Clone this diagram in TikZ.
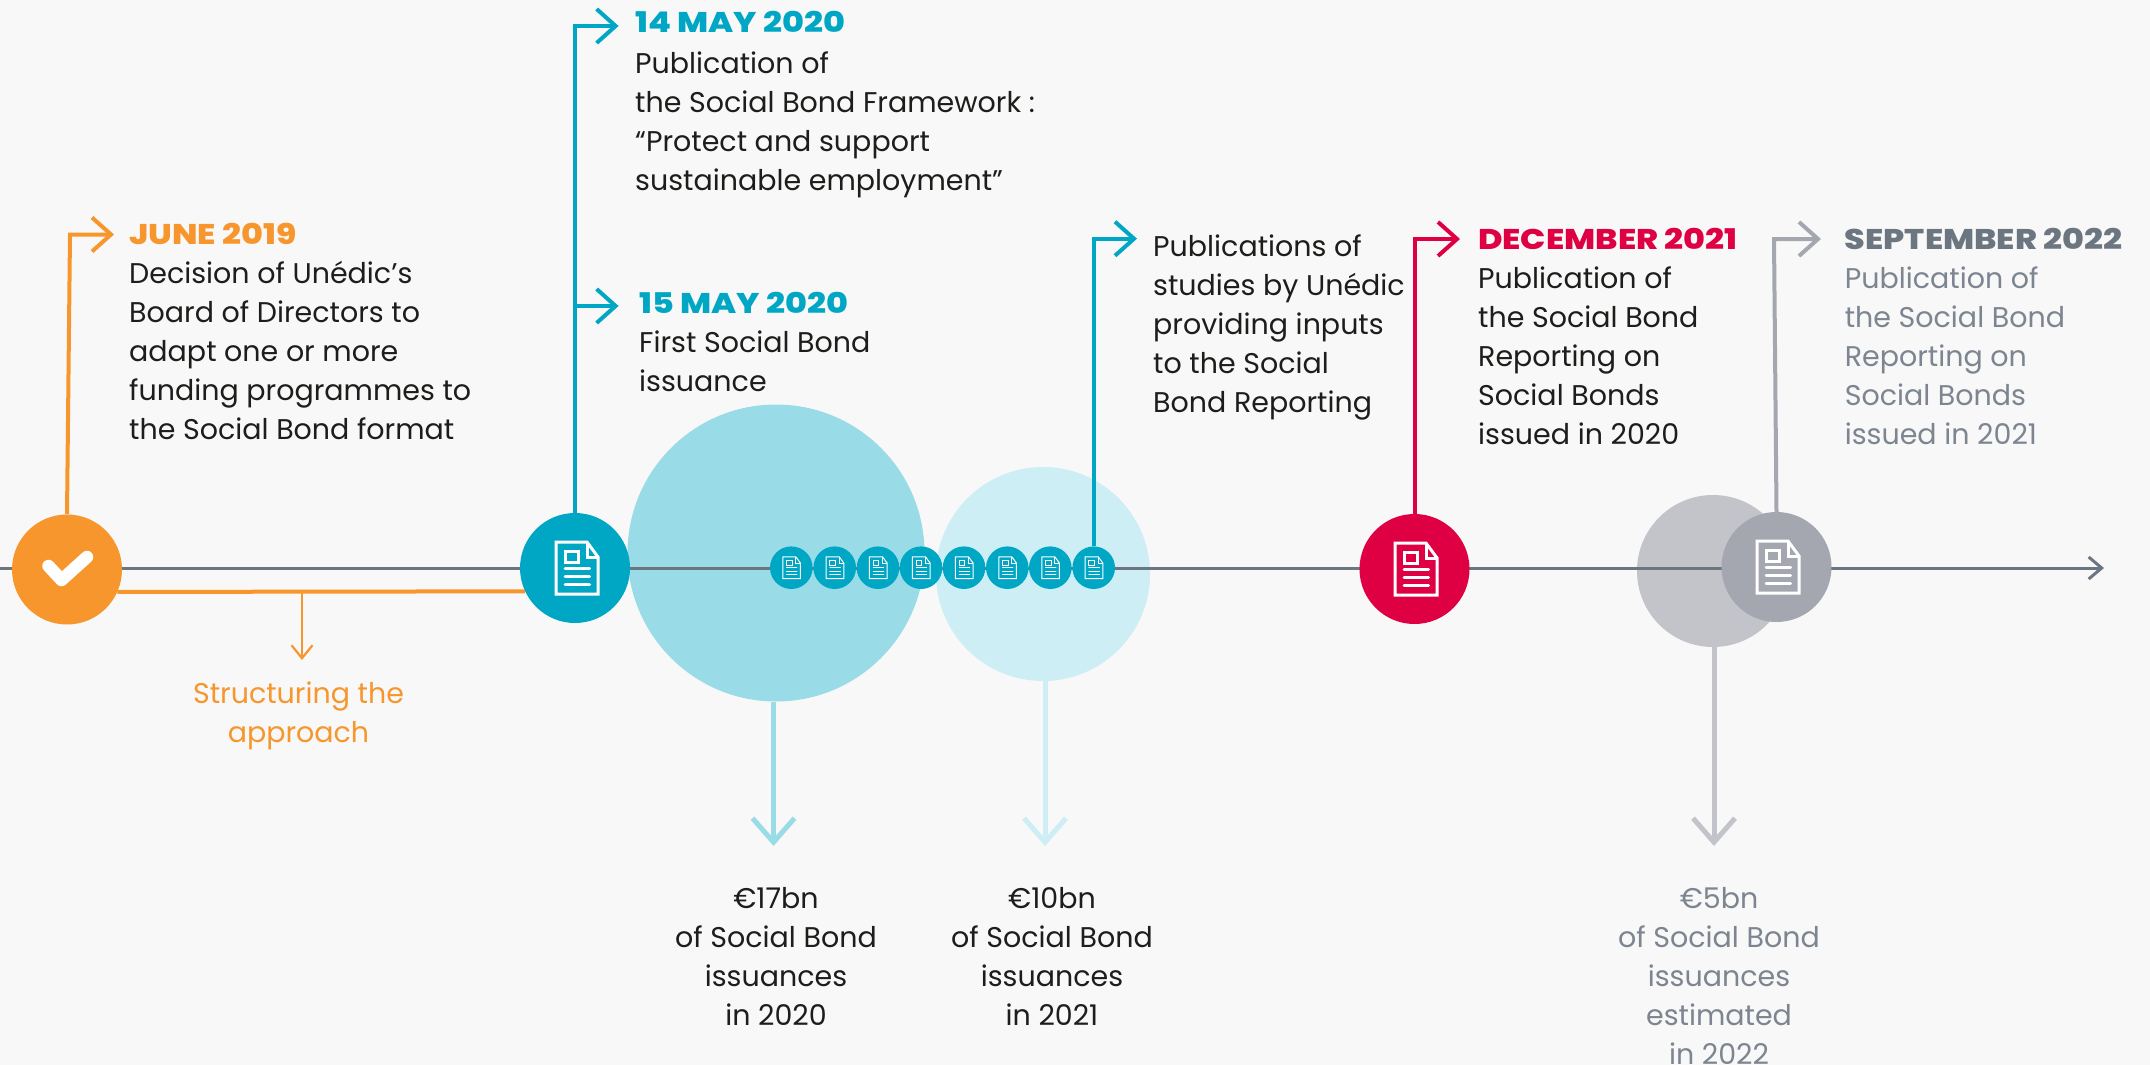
\documentclass[tikz,border=0pt]{standalone}
\usepackage{fontspec}
\usetikzlibrary{arrows.meta}
\setmainfont{Poppins}
\newfontfamily\headfont{Poppins}[UprightFont=* ExtraBold,FakeStretch=1.17]
\definecolor{bgc}{HTML}{F8F8F8}
\definecolor{orangec}{HTML}{F6962D}
\definecolor{bluec}{HTML}{00A7C4}
\definecolor{bluemid}{HTML}{99DCE8}
\definecolor{bluelight}{HTML}{CDEEF5}
\definecolor{redc}{HTML}{DE0043}
\definecolor{grayc}{HTML}{A4A7B0}
\definecolor{graylight}{HTML}{C2C4CA}
\definecolor{axisc}{HTML}{6C7680}
\definecolor{inkc}{HTML}{1D1D1B}
\definecolor{graytext}{HTML}{7C8590}
\tikzset{
  x=1pt,y=-1pt,
  dot/.style={circle,inner sep=0pt,minimum size=110pt,fill=#1},
  minidot/.style={circle,inner sep=0pt,minimum size=42.6pt,fill=bluec},
  disc/.style={circle,inner sep=0pt,fill=#1},
  bodytext/.style={anchor=base west,align=left,inner sep=0pt,text=inkc,font=\fontsize{28.5}{39}\selectfont},
  centertext/.style={anchor=base,align=center,inner sep=0pt,text=inkc,font=\fontsize{28.5}{39}\selectfont},
  headtext/.style={anchor=base west,inner sep=0pt,font=\fontsize{28.5}{39}\headfont},
  riser/.style={line width=4pt,draw=#1,-{Straight Barb[length=19pt,width=34pt]}},
  faller/.style={line width=5pt,draw=#1,-{Straight Barb[length=24pt,width=42pt]}},
  docicon/.pic={
    \draw[white,line width=#1,line join=miter]
      (-21,-26) -- (10,-26) -- (21,-11) -- (21,26) -- (-21,26) -- cycle;
    \draw[white,line width=#1] (10,-26) -- (10,-11) -- (21,-11);
    \draw[white,line width=#1] (-12,-17) rectangle (1,-6);
    \draw[white,line width=#1,line cap=round] (-12,0.5) -- (12.6,0.5);
    \draw[white,line width=#1,line cap=round] (-12,8.5) -- (12.6,8.5);
    \draw[white,line width=#1,line cap=round] (-12,16.5) -- (12.6,16.5);
  }
}
\begin{document}
\begin{tikzpicture}
\useasboundingbox (0,0) rectangle (2150,1065);
\fill[bgc] (0,0) rectangle (2150,1065);
% large amount discs
\node[disc=bluemid,minimum size=297pt] (d17) at (776,553) {};
\node[disc=bluelight,minimum size=214pt] (d10) at (1043,574) {};
\node[disc=graylight,minimum size=152pt] (d5) at (1713,571) {};
% axis
\coordinate (axisstart) at (0,568);
\coordinate (axisend) at (2104,568);
\draw[axisc,line width=3pt,-{Straight Barb[length=13pt,width=22pt]}] (axisstart) -- (axisend);
% milestones
\node[dot=orangec] (m19) at (67,569.5) {};
\node[dot=bluec] (m20) at (575,568) {};
\node[dot=redc] (m21) at (1414.5,569) {};
\node[dot=grayc] (m22) at (1776.5,567) {};
\foreach \i/\cx in {1/791.3,2/834.7,3/878,4/921,5/964,6/1007.3,7/1050.3,8/1093.7}{
  \node[minidot] (s\i) at (\cx,567.7) {};
  \pic[xshift=0.3pt,scale=0.42] at (s\i) {docicon=1};
}
\pic at ([xshift=2pt]m20.center) {docicon=3};
\pic at ([xshift=1.5pt]m21.center) {docicon=3};
\pic at ([xshift=1.5pt]m22.center) {docicon=3};
\draw[white,line width=12.5pt,line cap=round,line join=round] (48.5,566) -- (61.5,580) -- (87,557);
% orange bracket
\coordinate (barmid) at (302,592);
\coordinate (bartip) at (302,660);
\draw[orangec,line width=4pt] (m19.-24.15) -- (m20.205.87);
\draw[orangec,line width=2.2pt,-{Straight Barb[length=13pt,width=21pt]}] (barmid) -- (bartip);
% risers
\coordinate (tj) at (114,234.5);
\coordinate (cj) at (70,234.5);
\coordinate (t14) at (618.6,26);
\coordinate (t15) at (618.6,306);
\coordinate (tp) at (1137,238.7);
\coordinate (td) at (1460,239);
\coordinate (ts) at (1821,239);
\coordinate (cs) at (1774,239);
\draw[riser=orangec] (m19.north) -- (cj) -- (tj);
\draw[riser=bluec] (m20.north) |- (t14);
\draw[riser=bluec] (m20.center |- t15) -- (t15);
\draw[riser=bluec] (s8.north) |- (tp);
\draw[riser=redc] (m21.north) |- (td);
\draw[riser=grayc] (m22.north) -- (cs) -- (ts);
% fallers
\coordinate (f17) at (773.5,846);
\coordinate (f10) at (1045,846);
\coordinate (f5) at (1714,846);
\draw[faller=bluemid] (f17 |- d17.south) -- (f17);
\draw[faller=bluelight] (f10 |- d10.south) -- (f10);
\draw[faller=graylight] (f5 |- d5.south) -- (f5);
% texts (a multi-line node is placed by its last baseline)
\node[headtext,text=orangec] (hj) at (129,244) {JUNE 2019};
\node[bodytext] (bj) at (129,439) {Decision of Unédic’s\\Board of Directors to\\adapt one or more\\funding programmes to\\the Social Bond format};
\node[headtext,text=bluec] (h14) at (635,33) {14 MAY 2020};
\node[bodytext] (b14) at (635,190) {Publication of\\the Social Bond Framework :\\“Protect and support\\sustainable employment”};
\node[headtext,text=bluec] (h15) at (639,313) {15 MAY 2020};
\node[bodytext] (b15) at (639,391) {First Social Bond\\issuance};
\node[bodytext] (bp) at (1153,412.4) {Publications of\\studies by Unédic\\providing inputs\\to the Social\\Bond Reporting};
\node[headtext,text=redc] (hd) at (1478,249) {DECEMBER 2021};
\node[bodytext] (bd) at (1478,444) {Publication of\\the Social Bond\\Reporting on\\Social Bonds\\issued in 2020};
\node[headtext,text=axisc] (hs) at (1844.6,249) {SEPTEMBER 2022};
\node[bodytext,text=graytext] (bs) at (1844.6,444) {Publication of\\the Social Bond\\Reporting on\\Social Bonds\\issued in 2021};
\node[centertext,text=orangec] (tb) at (298.5,742) {Structuring the\\approach};
\node[centertext] (a17) at (776,1025) {€17bn\\of Social Bond\\issuances\\in 2020};
\node[centertext] (a10) at (1052,1025) {€10bn\\of Social Bond\\issuances\\in 2021};
\node[centertext,text=graytext] (a5) at (1719,1064) {€5bn\\of Social Bond\\issuances\\estimated\\in 2022};
\end{tikzpicture}
\end{document}
